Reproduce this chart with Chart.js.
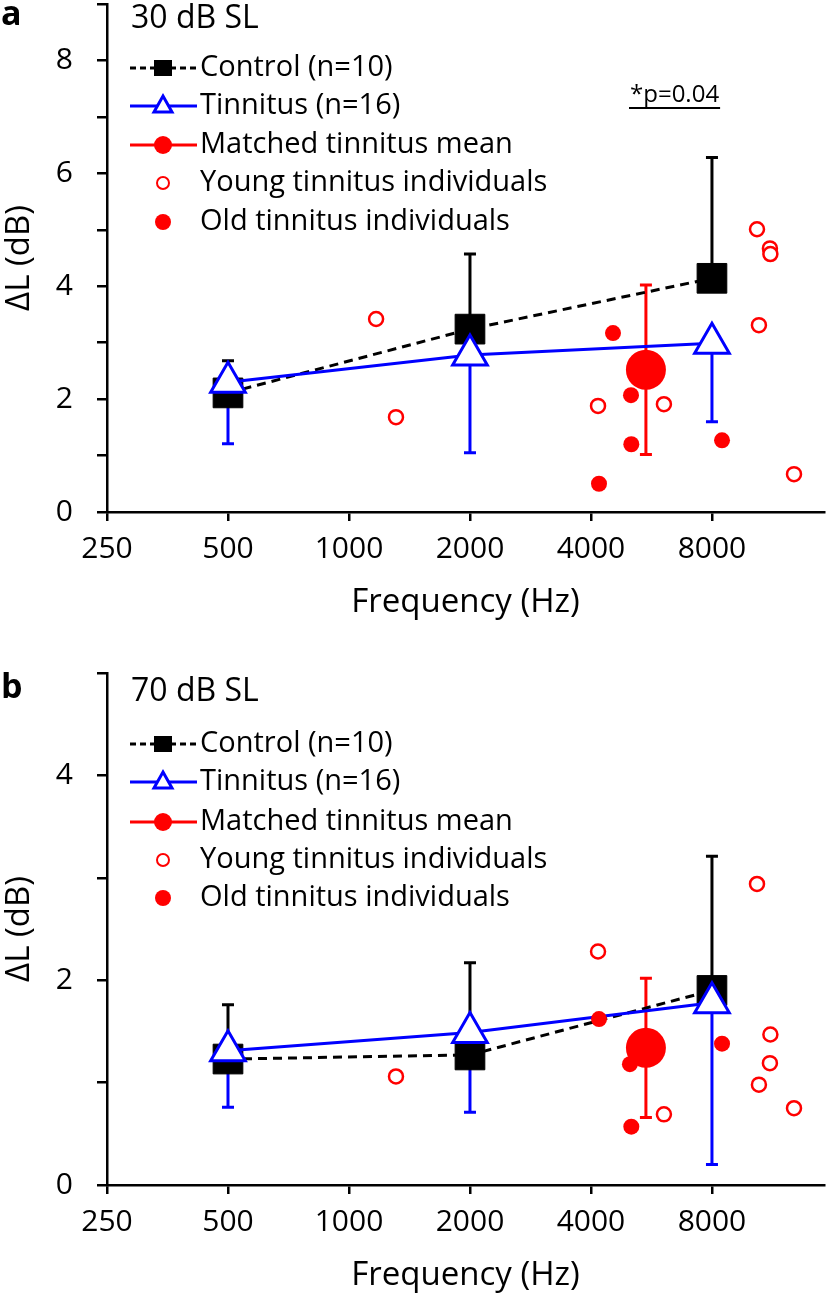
<!DOCTYPE html>
<html>
<head>
<meta charset="utf-8">
<script src="https://cdn.jsdelivr.net/npm/chart.js@4.4.0/dist/chart.umd.min.js"></script>
<style>
  html, body { margin: 0; padding: 0; background: #fff; }
  #wrap { position: relative; width: 826px; height: 1301px; }
  .panel { position: absolute; left: 0; width: 826px; }
  #panelA { top: 0; height: 650px; }
  #panelB { top: 650px; height: 651px; }
</style>
</head>
<body>
<div id="wrap">
  <div class="panel" id="panelA"><canvas id="chartA"></canvas></div>
  <div class="panel" id="panelB"><canvas id="chartB"></canvas></div>
</div>
<script>
const FONT = '"Open Sans", Lato, sans-serif';

// group means are plotted at these frequencies (Hz)
const meanFreqs = [500, 2000, 8000];
const xTickValues = [250, 500, 1000, 2000, 4000, 8000];
const matchedFreq = 5480;

const legendLabels = ['Control (n=10)', 'Tinnitus (n=16)', 'Matched tinnitus mean',
  'Young tinnitus individuals', 'Old tinnitus individuals'];

// panel a: 30 dB SL
const control30 = [2.11, 3.24, 4.14];
const control30Err = [0.57, 1.33, 2.14];
const tinnitus30 = [2.30, 2.78, 2.99];
const tinnitus30Err = [1.09, 1.73, 1.39];
const matched30 = 2.52;
const matched30Err = 1.50;
const young30Freq = [1168, 1309, 4165, 6075, 10355, 11150, 11180, 10470, 12800];
const young30 = [3.42, 1.68, 1.88, 1.91, 5.01, 4.67, 4.57, 3.31, 0.67];
const old30Freq = [4538, 5031, 5040, 4188, 8475];
const old30 = [3.17, 2.07, 1.20, 0.50, 1.27];

// panel b: 70 dB SL
const control70 = [1.23, 1.27, 1.90];
const control70Err = [0.53, 0.90, 1.31];
const tinnitus70 = [1.31, 1.49, 1.78];
const tinnitus70Err = [0.55, 0.78, 1.58];
const matched70 = 1.34;
const matched70Err = 0.68;
const young70Freq = [1309, 4165, 6075, 10355, 11180, 11150, 10470, 12800];
const young70 = [1.06, 2.28, 0.69, 2.94, 1.47, 1.19, 0.98, 0.75];
const old70Freq = [4188, 5000, 5040, 8475];
const old70 = [1.62, 1.18, 0.57, 1.38];

function pts(xs, ys) {
  return xs.map((x, i) => ({ x: x, y: ys[i] }));
}

// error bars drawn under the markers
const errorBars = {
  id: 'errorBars',
  beforeDatasetsDraw(chart, args, opts) {
    const ctx = chart.ctx;
    const xs = chart.scales.x, ys = chart.scales.y;
    ctx.save();
    opts.bars.forEach(b => {
      ctx.strokeStyle = b.color;
      ctx.lineWidth = 3;
      b.x.forEach((fx, i) => {
        const px = xs.getPixelForValue(fx);
        const m = b.y[i], e = b.err[i];
        const ends = [];
        if (b.dir !== 'down') ends.push(ys.getPixelForValue(m + e));
        if (b.dir !== 'up') ends.push(ys.getPixelForValue(m - e));
        ends.forEach(py => {
          ctx.beginPath();
          ctx.moveTo(px, ys.getPixelForValue(m));
          ctx.lineTo(px, py);
          ctx.moveTo(px - 6, py);
          ctx.lineTo(px + 6, py);
          ctx.stroke();
        });
      });
    });
    ctx.restore();
  }
};

function drawSymbol(ctx, i, cx, cy) {
  ctx.save();
  if (i === 0) {
    ctx.strokeStyle = '#000'; ctx.lineWidth = 3; ctx.setLineDash([6, 4]);
    ctx.beginPath(); ctx.moveTo(130, cy); ctx.lineTo(197, cy); ctx.stroke();
    ctx.fillStyle = '#000'; ctx.fillRect(cx - 9, cy - 8, 18, 16);
  } else if (i === 1) {
    ctx.strokeStyle = '#0000ff'; ctx.lineWidth = 3;
    ctx.beginPath(); ctx.moveTo(130, cy); ctx.lineTo(197, cy); ctx.stroke();
    ctx.fillStyle = '#fff';
    ctx.beginPath(); ctx.moveTo(cx, cy - 10); ctx.lineTo(cx + 9, cy + 6); ctx.lineTo(cx - 9, cy + 6); ctx.closePath();
    ctx.fill(); ctx.stroke();
  } else if (i === 2) {
    ctx.strokeStyle = '#ff0000'; ctx.lineWidth = 3;
    ctx.beginPath(); ctx.moveTo(130, cy); ctx.lineTo(197, cy); ctx.stroke();
    ctx.fillStyle = '#ff0000';
    ctx.beginPath(); ctx.arc(cx, cy, 9, 0, Math.PI * 2); ctx.fill();
  } else if (i === 3) {
    ctx.strokeStyle = '#ff0000'; ctx.lineWidth = 2;
    ctx.beginPath(); ctx.arc(cx, cy, 6, 0, Math.PI * 2); ctx.stroke();
  } else {
    ctx.fillStyle = '#ff0000';
    ctx.beginPath(); ctx.arc(cx, cy, 8, 0, Math.PI * 2); ctx.fill();
  }
  ctx.restore();
}

// panel letter, condition title, legend and p-value note
const panelDecor = {
  id: 'panelDecor',
  afterDraw(chart, args, opts) {
    const ctx = chart.ctx;
    ctx.save();
    ctx.fillStyle = '#000';
    ctx.textBaseline = 'middle';
    ctx.font = 'bold 34px ' + FONT;
    ctx.fillText(opts.letter, 1, opts.letterY);
    ctx.font = '32px ' + FONT;
    ctx.fillText(opts.title, 131, opts.titleY);
    ctx.font = '29px ' + FONT;
    opts.rowsY.forEach((y, i) => {
      drawSymbol(ctx, i, 163, y);
      ctx.fillStyle = '#000';
      ctx.fillText(legendLabels[i], 200, y);
    });
    if (opts.note) {
      ctx.font = '24px ' + FONT;
      ctx.fillText(opts.note, 630, 95);
      const w = ctx.measureText(opts.note).width;
      ctx.fillRect(629, 107, w + 2, 2);
    }
    ctx.restore();
  }
};

function makeChart(id, d) {
  return new Chart(document.getElementById(id), {
    type: 'scatter',
    data: {
      datasets: [
        {
          data: [{ x: matchedFreq, y: d.matched }],
          pointRadius: 20, pointBackgroundColor: '#ff0000', pointBorderWidth: 0,
          order: 0
        },
        {
          data: pts(d.oldFreq, d.old),
          pointRadius: 8, pointBackgroundColor: '#ff0000', pointBorderWidth: 0,
          order: 1
        },
        {
          data: pts(d.youngFreq, d.young),
          pointRadius: 7, pointBackgroundColor: '#fff', pointBorderColor: '#ff0000', pointBorderWidth: 2.5,
          order: 2
        },
        {
          data: pts(meanFreqs, d.tinnitus), showLine: true,
          borderColor: '#0000ff', borderWidth: 3,
          pointStyle: 'triangle', pointRadius: 20, pointBackgroundColor: '#fff',
          pointBorderColor: '#0000ff', pointBorderWidth: 3,
          order: 3
        },
        {
          data: pts(meanFreqs, d.control), showLine: true,
          borderColor: '#000', borderWidth: 3, borderDash: [9, 6],
          pointStyle: 'rect', pointRadius: 21, pointBackgroundColor: '#000',
          pointBorderColor: '#000', pointBorderWidth: 1,
          order: 4
        }
      ]
    },
    options: {
      responsive: true,
      maintainAspectRatio: false,
      animation: false,
      events: [],
      layout: { autoPadding: false, padding: { top: d.padTop, right: 2, left: 0, bottom: d.padBottom } },
      scales: {
        x: {
          type: 'logarithmic',
          min: 250, max: 15200,
          afterBuildTicks: s => { s.ticks = xTickValues.map(v => ({ value: v })); },
          afterFit: s => { s.height = 110; s.paddingLeft = 0; s.paddingRight = 0; },
          ticks: {
            color: '#000', font: { family: FONT, size: 30 }, padding: 10,
            maxRotation: 0, autoSkip: false,
            callback: v => String(v)
          },
          grid: { drawOnChartArea: false, drawTicks: true, tickLength: 9, color: '#000', lineWidth: 2.5 },
          border: { display: true, color: '#000', width: 2.5 },
          title: { display: true, text: 'Frequency (Hz)', color: '#000', font: { family: FONT, size: 33 }, padding: 0 }
        },
        y: {
          min: 0, max: d.yMax,
          afterFit: s => { s.width = 107; s.paddingTop = 0; s.paddingBottom = 0; },
          ticks: {
            stepSize: 1, color: '#000', font: { family: FONT, size: 30 }, padding: 24,
            callback: v => (v % 2 === 0 ? String(v) : '')
          },
          grid: { drawOnChartArea: false, drawTicks: true, tickLength: 10, color: '#000', lineWidth: 2.5 },
          border: { display: true, color: '#000', width: 2.5 },
          title: { display: true, text: 'ΔL (dB)', color: '#000', font: { family: FONT, size: 33 }, padding: 0 }
        }
      },
      plugins: {
        legend: { display: false },
        tooltip: { enabled: false },
        errorBars: {
          bars: [
            { x: meanFreqs, y: d.control, err: d.controlErr, dir: 'up', color: '#000' },
            { x: meanFreqs, y: d.tinnitus, err: d.tinnitusErr, dir: 'down', color: '#0000ff' },
            { x: [matchedFreq], y: [d.matched], err: [d.matchedErr], dir: 'both', color: '#ff0000' }
          ]
        },
        panelDecor: d.decor
      }
    },
    plugins: [errorBars, panelDecor]
  });
}

makeChart('chartA', {
  control: control30, controlErr: control30Err,
  tinnitus: tinnitus30, tinnitusErr: tinnitus30Err,
  matched: matched30, matchedErr: matched30Err,
  youngFreq: young30Freq, young: young30,
  oldFreq: old30Freq, old: old30,
  yMax: 9, padTop: 4, padBottom: 28,
  decor: { letter: 'a', letterY: 15, title: '30 dB SL', titleY: 19,
    rowsY: [68, 106, 145, 183, 222], note: '*p=0.04' }
});

makeChart('chartB', {
  control: control70, controlErr: control70Err,
  tinnitus: tinnitus70, tinnitusErr: tinnitus70Err,
  matched: matched70, matchedErr: matched70Err,
  youngFreq: young70Freq, young: young70,
  oldFreq: old70Freq, old: old70,
  yMax: 5, padTop: 23, padBottom: 6,
  decor: { letter: 'b', letterY: 38, title: '70 dB SL', titleY: 42,
    rowsY: [94, 132, 172, 210, 248], note: null }
});
</script>
</body>
</html>
